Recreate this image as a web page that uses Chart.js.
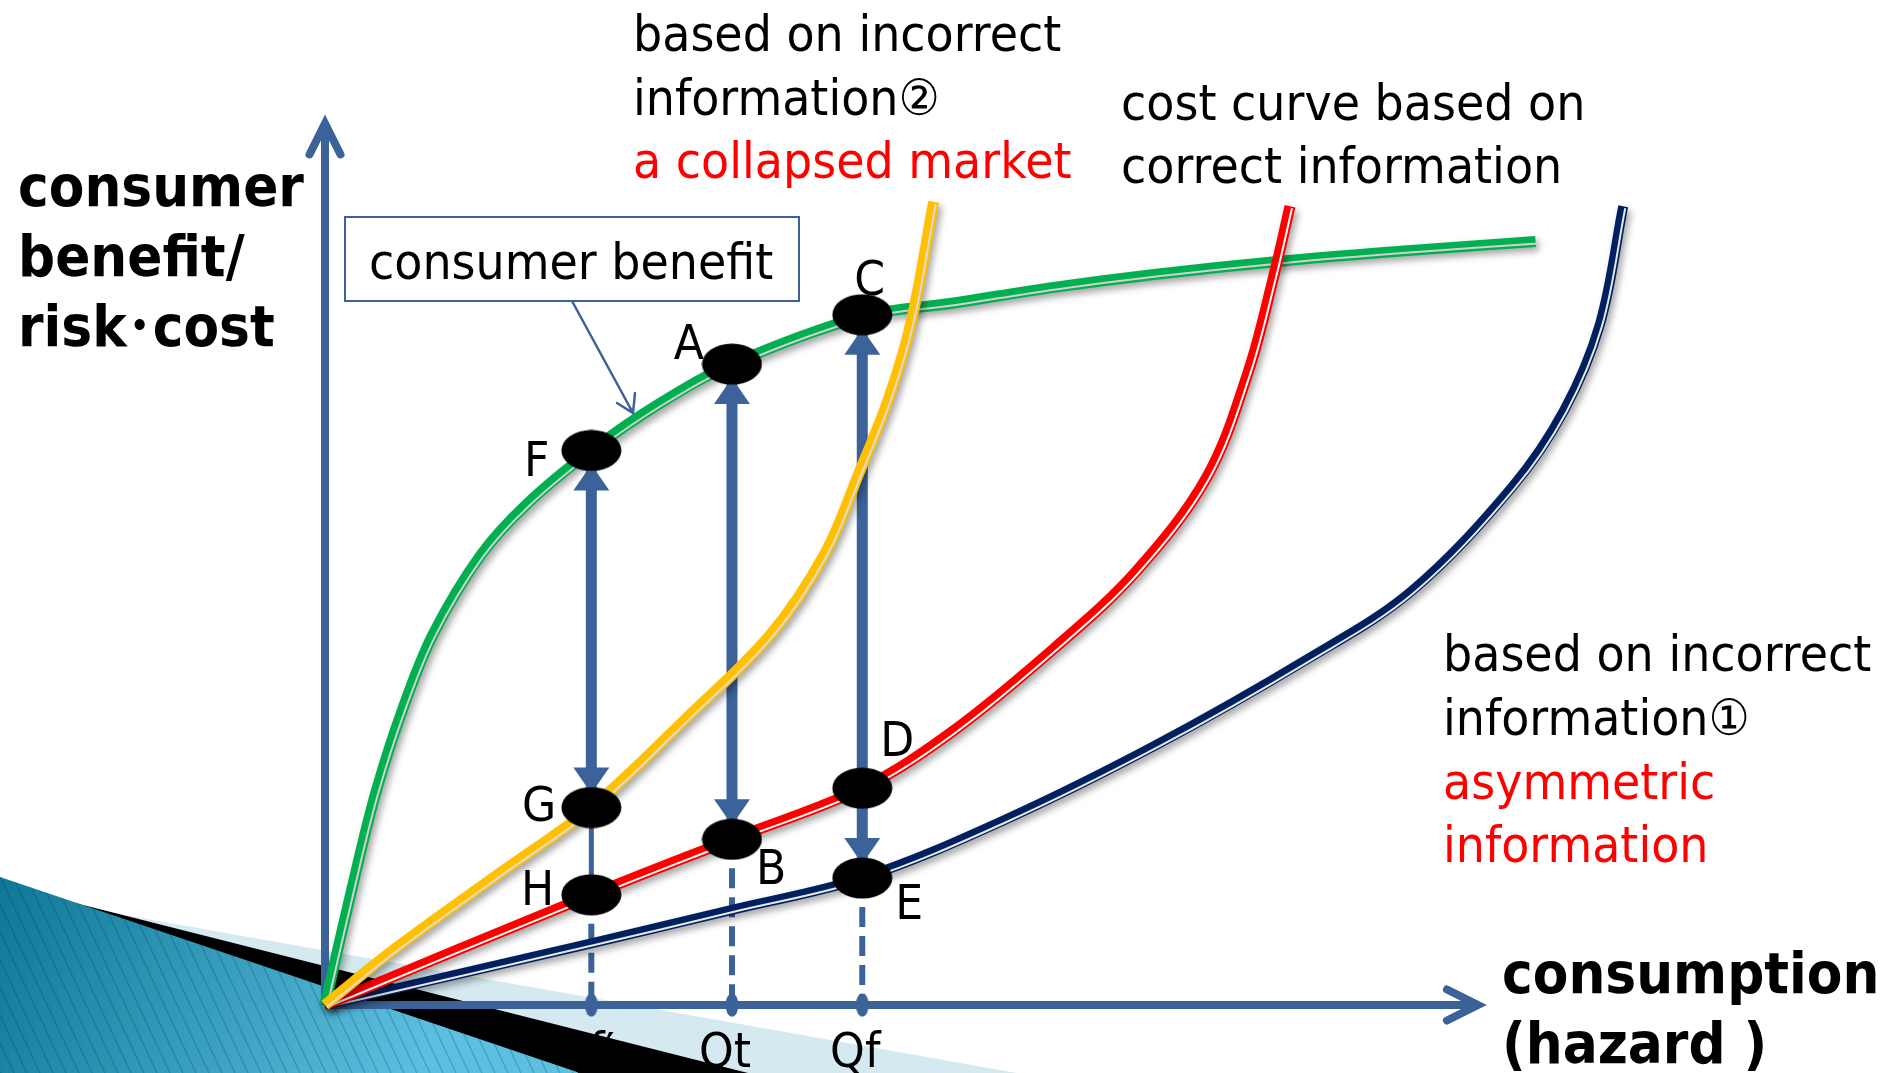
<!DOCTYPE html>
<html>
<head>
<meta charset="utf-8">
<title>consumer benefit / risk・cost</title>
<script src="https://cdn.jsdelivr.net/npm/chart.js@4.4.1/dist/chart.umd.min.js"></script>
<style>
  html, body { margin: 0; padding: 0; background: #fff; overflow: hidden; }
</style>
</head>
<body>
<canvas id="chart" width="1893" height="1073"></canvas>
<script>
// x = consumption (hazard), y = consumer benefit / risk・cost; both axes run 0..100
const axisX = 100;
const axisY = 100;

// consumer benefit (green)
const benefitX = [0, 2.9, 4.5, 6.7, 9.4, 13.5, 17.5, 23.1, 29.0, 35.3, 46.6, 54.4, 63.2, 72.1, 83.1, 94.2, 105.0];
const benefitY = [0, 16.3, 24.5, 33.4, 42.1, 51.0, 56.8, 62.9, 68.2, 72.7, 78.1, 79.6, 81.4, 82.9, 84.4, 85.6, 86.6];

// cost curve, correct information (red)
const correctX = [0, 23.1, 35.3, 46.6, 54.4, 63.2, 70.3, 76.5, 80.1, 82.3, 83.7];
const correctY = [0, 12.5, 18.8, 24.6, 31.0, 40.4, 49.1, 59.9, 71.9, 82.7, 90.6];

// cost curve, incorrect information 1 - asymmetric information (navy)
const wrong1X = [0, 23.1, 35.3, 46.6, 58.8, 72.1, 85.3, 94.2, 103.0, 107.5, 110.6, 112.6];
const wrong1Y = [0, 7.0, 10.8, 14.4, 20.9, 29.5, 39.3, 46.9, 58.8, 67.5, 77.3, 90.6];

// cost curve, incorrect information 2 - collapsed market (yellow)
const wrong2X = [0, 6.0, 15.0, 23.1, 31.4, 38.7, 43.4, 46.4, 49.0, 50.9, 52.8];
const wrong2Y = [0, 6.3, 14.8, 22.4, 32.6, 42.1, 51.3, 60.6, 69.2, 77.8, 91.1];

// labelled points
const pointNames = ['A', 'B', 'C', 'D', 'E', 'F', 'G', 'H'];
const pointX = [35.3, 35.3, 46.6, 46.6, 46.6, 23.1, 23.1, 23.1];
const pointY = [72.7, 18.8, 78.3, 24.6, 14.4, 62.9, 22.4, 12.5];

// quantities on the x axis
const qLabels = ['Qf\u2032', 'Qt', 'Qf'];
const qValues = [23.1, 35.3, 46.6];
const dropFrom = ['H', 'B', 'E'];
const arrowPairs = [['F', 'G'], ['A', 'B'], ['C', 'E']];

const AXIS_BLUE = '#3b6399';
const FONT = '"DejaVu Sans", "Noto Sans CJK JP", sans-serif';

const pts = (xs, ys) => xs.map((x, i) => ({ x: x, y: ys[i] }));
const mark = name => {
    const i = pointNames.indexOf(name);
    return { x: pointX[i], y: pointY[i] };
};

function blob(w, h, color) {
    const c = document.createElement('canvas');
    c.width = w;
    c.height = h;
    const g = c.getContext('2d');
    g.fillStyle = color;
    g.beginPath();
    g.ellipse(w / 2, h / 2, w / 2 - 0.5, h / 2 - 0.5, 0, 0, Math.PI * 2);
    g.fill();
    return c;
}

const dotStyle = blob(61, 42, '#000');
const tickStyle = blob(14, 24, AXIS_BLUE);

const curveStyles = [
    { xs: benefitX, ys: benefitY, color: '#00b050', gap: '#d0d0d0', width: 11, z: 8 },
    { xs: wrong1X, ys: wrong1Y, color: '#002060', gap: '#e8e8e8', width: 10, z: 6 },
    { xs: correctX, ys: correctY, color: '#ff0000', gap: '#ffffff', width: 11, z: 4 },
    { xs: wrong2X, ys: wrong2Y, color: '#ffc000', gap: '#dcdcdc', width: 11, z: 2 }
];

const datasets = [];
function seg(data, color, width, order, extra) {
    datasets.push(Object.assign({
        type: 'line', data: data, borderColor: color, borderWidth: width, order: order,
        pointRadius: 0, tension: 0, fill: false, clip: false
    }, extra || {}));
}

// axes
seg([{ x: 0, y: 0 }, { x: 0, y: axisY }], AXIS_BLUE, 8, 20, { fx: 'axisY' });
seg([{ x: 0, y: 0 }, { x: axisX, y: 0 }], AXIS_BLUE, 8, 20, { fx: 'axisX' });

// little dots where the drop lines meet the x axis
datasets.push({
    type: 'line', data: qValues.map(q => ({ x: q, y: 0 })), showLine: false,
    pointStyle: tickStyle, pointRadius: 6, order: 19, clip: false
});

// drop lines
seg([mark('G'), mark('H')], AXIS_BLUE, 5, 18);
dropFrom.forEach(n => {
    const p = mark(n);
    seg([p, { x: p.x, y: 0 }], AXIS_BLUE, 6, 18, { borderDash: [20, 9] });
});

// benefit-vs-cost arrows
arrowPairs.forEach(pair => seg([mark(pair[0]), mark(pair[1])], AXIS_BLUE, 11, 16, { fx: 'arrow' }));

// curves: thick stroke plus a thin light line for the double-line look
curveStyles.forEach(c => {
    seg(pts(c.xs, c.ys), c.color, c.width, c.z, { fx: 'shadow', tension: 0.35 });
    seg(pts(c.xs, c.ys), c.gap, 2, c.z - 1, { fx: 'offset', tension: 0.35 });
});

// black markers
datasets.push({
    type: 'line', data: pointNames.map(mark), showLine: false,
    pointStyle: dotStyle, pointRadius: 20, order: 0, clip: false
});

function poly(ctx, list, fill) {
    ctx.beginPath();
    list.forEach((p, i) => i ? ctx.lineTo(p[0], p[1]) : ctx.moveTo(p[0], p[1]));
    ctx.closePath();
    ctx.fillStyle = fill;
    ctx.fill();
}

function backdrop(ctx) {
    ctx.save();
    poly(ctx, [[0, 893], [1017, 1073], [0, 1073]], '#d5e9f1');
    poly(ctx, [[0, 884], [748, 1073], [0, 1073]], '#000');
    const g = ctx.createLinearGradient(0, 880, 420, 1073);
    g.addColorStop(0, '#0e7896');
    g.addColorStop(1, '#5ec0e0');
    const teal = [[0, 877], [580, 1073], [0, 1073]];
    poly(ctx, teal, g);
    ctx.beginPath();
    teal.forEach((p, i) => i ? ctx.lineTo(p[0], p[1]) : ctx.moveTo(p[0], p[1]));
    ctx.closePath();
    ctx.clip();
    ctx.strokeStyle = 'rgba(0, 50, 80, 0.22)';
    ctx.lineWidth = 1.5;
    for (let s = -120; s < 620; s += 13) {
        ctx.beginPath();
        ctx.moveTo(s, 870);
        ctx.lineTo(s + 95, 1073);
        ctx.stroke();
    }
    ctx.restore();
}

function chevron(ctx, x, y, dx, dy) {
    const back = 31, side = 15.5;
    const bx = x - dx * back, by = y - dy * back;
    ctx.save();
    ctx.strokeStyle = AXIS_BLUE;
    ctx.lineWidth = 8;
    ctx.lineCap = 'round';
    ctx.lineJoin = 'miter';
    ctx.beginPath();
    ctx.moveTo(bx - dy * side, by + dx * side);
    ctx.lineTo(x, y);
    ctx.lineTo(bx + dy * side, by - dx * side);
    ctx.stroke();
    ctx.restore();
}

function arrowHeads(ctx, meta) {
    const p0 = meta.data[0], p1 = meta.data[1];
    const x = p0.x;
    const top = Math.min(p0.y, p1.y) + 14;
    const bot = Math.max(p0.y, p1.y) - 14;
    const len = 26, half = 18;
    ctx.save();
    ctx.fillStyle = AXIS_BLUE;
    [[top, 1], [bot, -1]].forEach(h => {
        ctx.beginPath();
        ctx.moveTo(x, h[0]);
        ctx.lineTo(x - half, h[0] + h[1] * len);
        ctx.lineTo(x + half, h[0] + h[1] * len);
        ctx.closePath();
        ctx.fill();
    });
    ctx.restore();
}

function put(ctx, str, x, y, size, opts) {
    opts = opts || {};
    ctx.save();
    ctx.translate(x, y);
    ctx.scale(opts.bold ? 0.91 : 0.92, 1);
    ctx.font = (opts.bold ? 'bold ' : '') + size + 'px ' + FONT;
    ctx.fillStyle = opts.color || '#000';
    ctx.textAlign = opts.align || 'left';
    ctx.textBaseline = 'alphabetic';
    ctx.fillText(str, 0, 0);
    ctx.restore();
}

// where each point letter sits relative to its marker
const letterPlace = {
    A: [-28, -5, 'right'], B: [24, 45, 'left'], C: [-8, -20, 'left'], D: [18, -32, 'left'],
    E: [33, 41, 'left'], F: [-42, 26, 'right'], G: [-35, 13, 'right'], H: [-37, 10, 'right']
};

const decor = {
    id: 'decor',
    beforeDraw(chart) {
        backdrop(chart.ctx);
    },
    beforeDatasetDraw(chart, args) {
        const ds = chart.data.datasets[args.index];
        const ctx = chart.ctx;
        if (ds.fx === 'shadow') {
            ctx.save();
            ctx.shadowColor = 'rgba(0, 0, 0, 0.35)';
            ctx.shadowBlur = 7;
            ctx.shadowOffsetX = 3;
            ctx.shadowOffsetY = 4;
        } else if (ds.fx === 'offset') {
            ctx.save();
            ctx.translate(2, 2);
        }
    },
    afterDatasetDraw(chart, args) {
        const ds = chart.data.datasets[args.index];
        const ctx = chart.ctx;
        if (ds.fx === 'shadow' || ds.fx === 'offset') ctx.restore();
        if (ds.fx === 'arrow') arrowHeads(ctx, args.meta);
        if (ds.fx === 'axisY') {
            const end = args.meta.data[1];
            chevron(ctx, end.x, end.y, 0, -1);
        }
        if (ds.fx === 'axisX') {
            const end = args.meta.data[1];
            chevron(ctx, end.x, end.y, 1, 0);
        }
    },
    afterDraw(chart) {
        const ctx = chart.ctx;
        const sx = chart.scales.x, sy = chart.scales.y;

        // point letters
        pointNames.forEach((n, i) => {
            const px = sx.getPixelForValue(pointX[i]);
            const py = sy.getPixelForValue(pointY[i]);
            const o = letterPlace[n];
            put(ctx, n, px + o[0], py + o[1], 48, { align: o[2] });
        });

        // quantity labels under the x axis
        qLabels.forEach((t, i) => {
            put(ctx, t, sx.getPixelForValue(qValues[i]) - 7, 1067, 48, { align: 'center' });
        });

        // "consumer benefit" call-out
        ctx.save();
        ctx.fillStyle = '#fff';
        ctx.fillRect(345, 217, 454, 84);
        ctx.strokeStyle = AXIS_BLUE;
        ctx.lineWidth = 2;
        ctx.strokeRect(345, 217, 454, 84);
        ctx.lineWidth = 2.5;
        ctx.lineCap = 'round';
        ctx.beginPath();
        ctx.moveTo(572, 301);
        ctx.lineTo(633, 413);
        ctx.moveTo(617, 403);
        ctx.lineTo(633, 413);
        ctx.lineTo(635, 393);
        ctx.stroke();
        ctx.restore();
        put(ctx, 'consumer benefit', 369, 279, 50);

        // axis titles
        put(ctx, 'consumer', 18, 206, 57, { bold: true });
        put(ctx, 'benefit/', 18, 276, 57, { bold: true });
        put(ctx, 'risk\uff65cost', 18, 346, 57, { bold: true });
        put(ctx, 'consumption', 1502, 993, 57, { bold: true });
        put(ctx, '(hazard )', 1502, 1063, 57, { bold: true });

        // curve notes
        put(ctx, 'based on incorrect', 633, 51, 50);
        put(ctx, 'information\u2461', 633, 115, 50);
        put(ctx, 'a collapsed market', 633, 178, 50, { color: '#ff0000' });
        put(ctx, 'cost curve based on', 1121, 120, 50);
        put(ctx, 'correct information', 1121, 183, 50);
        put(ctx, 'based on incorrect', 1443, 671, 50);
        put(ctx, 'information\u2460', 1443, 735, 50);
        put(ctx, 'asymmetric', 1443, 799, 50, { color: '#ff0000' });
        put(ctx, 'information', 1443, 862, 50, { color: '#ff0000' });
    }
};

new Chart(document.getElementById('chart').getContext('2d'), {
    type: 'line',
    data: { datasets: datasets },
    options: {
        responsive: false,
        devicePixelRatio: 1,
        animation: false,
        events: [],
        layout: { autoPadding: false, padding: { left: 325, right: 0, top: 0, bottom: 68 } },
        elements: { line: { borderJoinStyle: 'round' }, point: { radius: 0 } },
        scales: {
            x: { type: 'linear', min: 0, max: 136, display: false },
            y: { type: 'linear', min: 0, max: 114, display: false }
        },
        plugins: { legend: { display: false }, tooltip: { enabled: false } }
    },
    plugins: [decor]
});
</script>
</body>
</html>
